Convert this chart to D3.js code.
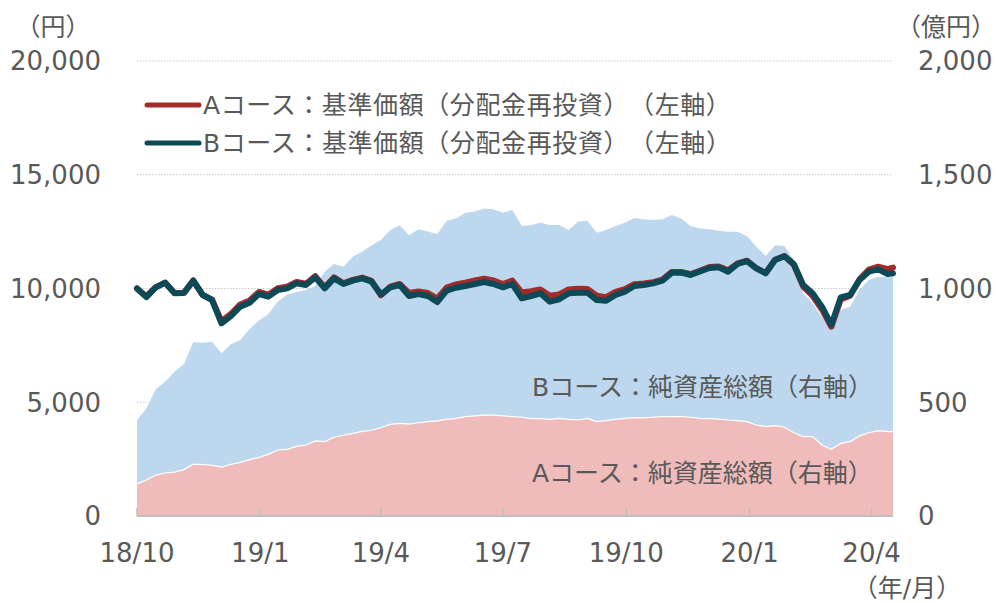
<!DOCTYPE html>
<html lang="ja">
<head>
<meta charset="UTF-8">
<title>基準価額・純資産総額</title>
<script src="https://cdn.jsdelivr.net/npm/d3@7"></script>
<style>
  body { margin: 0; background: #fff; }
  svg text { font-family: "DejaVu Sans", "Noto Sans CJK JP", sans-serif; fill: #595959; }
  svg text.full { text-spacing-trim: space-all; }
  svg text.legend { letter-spacing: 0.6px; }
</style>
</head>
<body>
<div id="chart"></div>
<script>
// weekly dates
const dates = [
  "2018-10-01","2018-10-08","2018-10-15","2018-10-22","2018-10-29","2018-11-05","2018-11-12","2018-11-19","2018-11-26",
  "2018-12-03","2018-12-10","2018-12-17","2018-12-24","2018-12-31","2019-01-07","2019-01-14","2019-01-21","2019-01-28",
  "2019-02-04","2019-02-11","2019-02-18","2019-02-25","2019-03-04","2019-03-11","2019-03-18","2019-03-25","2019-04-01",
  "2019-04-08","2019-04-15","2019-04-22","2019-04-29","2019-05-06","2019-05-13","2019-05-20","2019-05-27","2019-06-03",
  "2019-06-10","2019-06-17","2019-06-24","2019-07-01","2019-07-08","2019-07-15","2019-07-22","2019-07-29","2019-08-05",
  "2019-08-12","2019-08-19","2019-08-26","2019-09-02","2019-09-09","2019-09-16","2019-09-23","2019-09-30","2019-10-07",
  "2019-10-14","2019-10-21","2019-10-28","2019-11-04","2019-11-11","2019-11-18","2019-11-25","2019-12-02","2019-12-09",
  "2019-12-16","2019-12-23","2019-12-30","2020-01-06","2020-01-13","2020-01-20","2020-01-27","2020-02-03","2020-02-10",
  "2020-02-17","2020-02-24","2020-03-02","2020-03-09","2020-03-16","2020-03-23","2020-03-30","2020-04-06","2020-04-13",
  "2020-04-17"
]

// 基準価額（円）
const navA = [
  10000,9650,10060,10260,9800,9810,10350,9720,9510,
  8560,8880,9300,9470,9850,9730,10010,10080,10290,
  10210,10540,10050,10490,10230,10380,10480,10340,9700,
  10080,10200,9800,9870,9800,9560,10040,10180,10260,
  10350,10430,10350,10200,10350,9830,9880,9960,9680,
  9740,9960,9990,9980,9680,9620,9850,9970,10190,
  10220,10280,10390,10730,10730,10630,10780,10940,10970,
  10800,11100,11220,10900,10680,11260,11430,11040,10080,
  9680,9080,8320,9520,9680,10400,10830,10960,10850,
  10920
]
const navB = [
  10000,9620,10050,10255,9790,9800,10344,9714,9494,
  8470,8790,9201,9377,9758,9641,9934,10007,10227,
  10153,10490,10007,10447,10197,10344,10447,10300,9743,
  10050,10153,9670,9758,9670,9406,9904,10036,10110,
  10197,10285,10197,10050,10197,9567,9670,9787,9421,
  9524,9787,9816,9816,9494,9465,9714,9860,10110,
  10153,10227,10344,10696,10696,10593,10754,10901,10930,
  10740,11077,11208,10886,10666,11252,11420,11077,10153,
  9787,9201,8400,9611,9714,10373,10740,10842,10637,
  10666
]

// 純資産総額（億円）
const assetsA = [
  141,158,179,189,193,204,228,226,223,
  215,227,236,248,258,271,290,293,306,
  312,330,327,346,355,363,372,377,388,
  403,407,404,410,415,418,425,429,437,
  440,443,443,440,437,434,428,428,425,
  429,425,422,429,415,419,425,429,432,
  431,434,437,437,437,434,429,428,426,
  422,419,415,400,393,397,390,366,349,
  349,312,293,319,327,352,366,375,371,
  371
]
const assetsB = [
  281,315,378,401,441,464,537,536,543,
  500,528,538,574,601,617,652,680,679,
  681,681,747,762,741,777,790,813,825,
  854,871,830,850,836,822,873,879,896,
  898,909,905,893,908,841,851,861,854,
  850,832,872,869,830,838,850,860,878,
  873,867,867,886,871,841,835,832,828,
  828,831,816,784,750,793,797,759,630,
  586,564,525,587,593,641,671,677,678,
  681
]

const leftTicks = [0, 5000, 10000, 15000, 20000]
const rightTicks = [0, 500, 1000, 1500, 2000]
const xTickDates = ["2018-10-01","2019-01-01","2019-04-01","2019-07-01","2019-10-01","2020-01-01","2020-04-01"]
const xTickLabels = ["18/10","19/1","19/4","19/7","19/10","20/1","20/4"]

const W = 996, H = 603
const plotL = 137, plotR = 893, plotT = 61, plotB = 516
const fontSize = 25
const numSize = 26

const parse = d3.timeParse("%Y-%m-%d")
const days = dates.map(parse)

const svg = d3.select("#chart").append("svg")
    .attr("width", W)
    .attr("height", H)

const x = d3.scaleTime()
    .domain([parse("2018-10-01"), parse("2020-04-17")])
    .range([plotL, plotR])
const yL = d3.scaleLinear().domain([0, 20000]).range([plotB, plotT])
const yR = d3.scaleLinear().domain([0, 2000]).range([plotB, plotT])

// dotted grid
svg.append("g")
    .selectAll("line")
    .data(leftTicks.filter(d => d > 0))
    .enter().append("line")
    .attr("x1", plotL).attr("x2", plotR)
    .attr("y1", d => yL(d)).attr("y2", d => yL(d))
    .attr("stroke", "#c8c8c8")
    .attr("stroke-width", 1)
    .attr("stroke-dasharray", "1.5,1.5")

// stacked assets
let table = days.map((d, i) => ({date: d, a: assetsA[i], b: assetsB[i]}))
let stacked = d3.stack().keys(["a", "b"])(table)
let area = d3.area()
    .x(d => x(d.data.date))
    .y0(d => yR(d[0]))
    .y1(d => yR(d[1]))
let areaColors = ["#efbbbb", "#bdd7ee"]

svg.append("g")
    .selectAll("path")
    .data(stacked.slice().reverse())
    .enter().append("path")
    .attr("d", area)
    .attr("fill", (d, i) => areaColors[1 - i])

// white edge on top of A
svg.append("path")
    .datum(stacked[0])
    .attr("d", d3.line().x(d => x(d.data.date)).y(d => yR(d[1])))
    .attr("fill", "none")
    .attr("stroke", "#ffffff")
    .attr("stroke-width", 1.2)

// NAV lines
let line = d3.line()
    .x((d, i) => x(days[i]))
    .y(d => yL(d))
let lineColors = ["#a22b2b", "#0b4a56"]
;[navA, navB].forEach((s, i) => {
    svg.append("path")
        .datum(s)
        .attr("d", line)
        .attr("fill", "none")
        .attr("stroke", lineColors[i])
        .attr("stroke-width", 6)
        .attr("stroke-linejoin", "round")
        .attr("stroke-linecap", "round")
})

// bottom axis
svg.append("line")
    .attr("x1", plotL).attr("x2", plotR)
    .attr("y1", plotB).attr("y2", plotB)
    .attr("stroke", "#bfbfbf").attr("stroke-width", 2)
svg.append("g")
    .selectAll("line")
    .data(xTickDates)
    .enter().append("line")
    .attr("x1", d => x(parse(d))).attr("x2", d => x(parse(d)))
    .attr("y1", plotB - 8).attr("y2", plotB)
    .attr("stroke", "#bfbfbf").attr("stroke-width", 1.5)

svg.append("g")
    .selectAll("text")
    .data(xTickDates)
    .enter().append("text")
    .attr("x", d => x(parse(d)))
    .attr("y", 562)
    .attr("text-anchor", "middle")
    .style("font-size", numSize + "px")
    .text((d, i) => xTickLabels[i])

// left axis labels
svg.append("g")
    .selectAll("text")
    .data(leftTicks)
    .enter().append("text")
    .attr("x", 101)
    .attr("y", d => yL(d))
    .attr("dy", "0.36em")
    .attr("text-anchor", "end")
    .style("font-size", numSize + "px")
    .text(d => d3.format(",")(d))

// right axis labels
svg.append("g")
    .selectAll("text")
    .data(rightTicks)
    .enter().append("text")
    .attr("x", 918)
    .attr("y", d => yR(d))
    .attr("dy", "0.36em")
    .attr("text-anchor", "start")
    .style("font-size", numSize + "px")
    .text(d => d3.format(",")(d))

function label(txt, px, py, anchor, cls) {
    return svg.append("text")
        .attr("class", cls || null)
        .attr("x", px).attr("y", py)
        .attr("dy", "0.36em")
        .attr("text-anchor", anchor || "start")
        .style("font-size", fontSize + "px")
        .text(txt)
}

label("（円）", 53, 27, "middle")
label("（億円）", 946, 27, "middle")
label("（年/月）", 907, 588, "middle")
label("Bコース：純資産総額（右軸）", 532, 387, "start", "full")
label("Aコース：純資産総額（右軸）", 532, 473, "start", "full")

// legend
let legendNames = ["Aコース：基準価額（分配金再投資）（左軸）", "Bコース：基準価額（分配金再投資）（左軸）"]
legendNames.forEach((n, i) => {
    let ly = 105 + i * 38
    svg.append("line")
        .attr("x1", 147).attr("x2", 199)
        .attr("y1", ly).attr("y2", ly)
        .attr("stroke", lineColors[i])
        .attr("stroke-width", 5)
        .attr("stroke-linecap", "round")
    label(n, 203, ly, "start", "full legend")
})
</script>
</body>
</html>
